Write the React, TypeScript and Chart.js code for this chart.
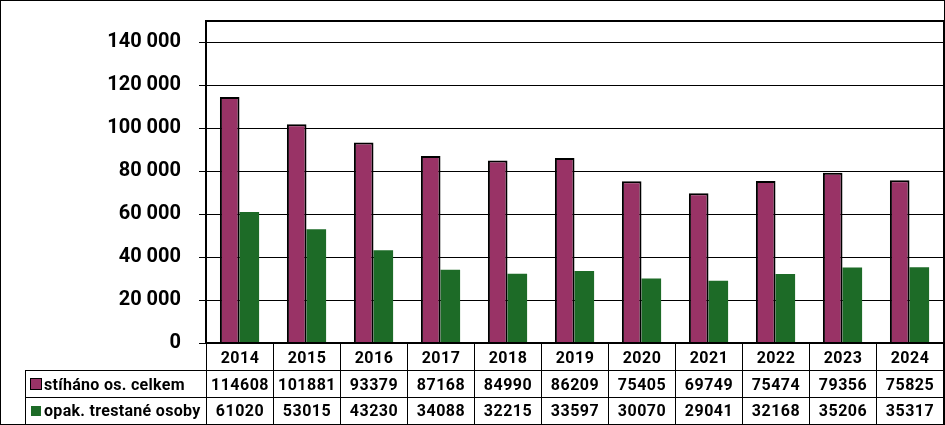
import React, { useEffect, useRef } from "react";
import { Chart, registerables } from "chart.js";

Chart.register(...registerables);

const years = ["2014", "2015", "2016", "2017", "2018", "2019", "2020", "2021", "2022", "2023", "2024"];
const seriesNames = ["stíháno os. celkem", "opak. trestané osoby"];
const stihano = [114608, 101881, 93379, 87168, 84990, 86209, 75405, 69749, 75474, 79356, 75825];
const opak = [61020, 53015, 43230, 34088, 32215, 33597, 30070, 29041, 32168, 35206, 35317];
const yMax = 150000;
const yTicks = [0, 20000, 40000, 60000, 80000, 100000, 120000, 140000];

const MAGENTA = "#993366";
const GREEN = "#1D6B27";
const FONT = "Roboto";

const fmt = (v: number) => String(v).replace(/\B(?=(\d{3})+(?!\d))/g, " ");

const tablePlugin = {
  id: "tablePlugin",
  afterDraw(chart: any) {
    const ctx = chart.ctx as CanvasRenderingContext2D;
    const ca = chart.chartArea;
    const xs = chart.scales.x;
    const n = years.length;
    const colW = (ca.right - ca.left) / n;
    const W = chart.width;
    const H = chart.height;
    const rowTop = ca.bottom;
    const row1 = rowTop + 27;
    const row2 = row1 + 27;
    const row3 = H - 1;
    const legLeft = 25;
    ctx.save();
    ctx.fillStyle = "#000";
    // plot frame
    ctx.fillRect(ca.left - 1, ca.top - 1, ca.right - ca.left + 2, 2);
    ctx.fillRect(ca.left - 1, ca.bottom - 1, ca.right - ca.left + 2, 2);
    ctx.fillRect(ca.right, ca.top - 1, 2, ca.bottom - ca.top + 2);
    // table lines
    ctx.strokeStyle = "#000";
    ctx.lineWidth = 1;
    ctx.beginPath();
    for (let i = 0; i <= n; i++) {
      const x = Math.round(xs.getPixelForValue(i) - colW / 2) + 0.5;
      ctx.moveTo(x, rowTop);
      ctx.lineTo(x, row3);
    }
    ctx.moveTo(legLeft + 0.5, row1);
    ctx.lineTo(legLeft + 0.5, row3);
    ctx.moveTo(legLeft, row1 + 0.5);
    ctx.lineTo(ca.right, row1 + 0.5);
    ctx.moveTo(legLeft, row2 + 0.5);
    ctx.lineTo(ca.right, row2 + 0.5);
    ctx.moveTo(legLeft, row3 + 0.5);
    ctx.lineTo(ca.right, row3 + 0.5);
    ctx.stroke();
    // text
    ctx.font = `bold 16px ${FONT}`;
    (ctx as any).letterSpacing = "0.5px";
    ctx.textBaseline = "alphabetic";
    ctx.textAlign = "center";
    ctx.fillStyle = "#000";
    for (let i = 0; i < n; i++) {
      const cx = xs.getPixelForValue(i) + 0.5;
      ctx.fillText(years[i], cx, rowTop + 19.5);
      ctx.fillText(String(stihano[i]), cx, row1 + 20);
      ctx.fillText(String(opak[i]), cx, row2 + 19);
    }
    // legend keys
    (ctx as any).letterSpacing = "0.3px";
    ctx.textAlign = "left";
    ctx.fillStyle = "#000";
    ctx.fillRect(30, row1 + 8, 12, 12);
    ctx.fillStyle = MAGENTA;
    ctx.fillRect(31, row1 + 9, 10, 10);
    ctx.fillStyle = GREEN;
    ctx.fillRect(31, row2 + 9, 10, 10);
    ctx.fillStyle = "#000";
    ctx.fillText(seriesNames[0], 44, row1 + 20);
    ctx.fillText(seriesNames[1], 44, row2 + 19);
    // outer border
    (ctx as any).letterSpacing = "0px";
    ctx.strokeRect(0.5, 0.5, W - 1, H - 1);
    ctx.restore();
  },
};

export default function App() {
  const ref = useRef<HTMLCanvasElement | null>(null);
  useEffect(() => {
    document.body.style.margin = "0";
    const canvas = ref.current!;
    const chart = new Chart(canvas, {
      type: "bar",
      data: {
        labels: years,
        datasets: [
          {
            label: seriesNames[0],
            data: stihano,
            backgroundColor: MAGENTA,
            borderColor: "#000",
            borderWidth: 2,
            categoryPercentage: 0.585,
            barPercentage: 1,
          },
          {
            label: seriesNames[1],
            data: opak,
            backgroundColor: GREEN,
            borderWidth: 0,
            categoryPercentage: 0.585,
            barPercentage: 1,
          },
        ],
      },
      options: {
        responsive: false,
        animation: false,
        devicePixelRatio: 1,
        layout: { padding: { top: 21, right: 2, bottom: 82, left: 0 } },
        plugins: { legend: { display: false }, tooltip: { enabled: false } },
        scales: {
          x: { display: false },
          y: {
            min: 0,
            max: yMax,
            afterFit: (s: any) => {
              s.width = 206;
              s.paddingTop = 0;
              s.paddingBottom = 0;
            },
            afterBuildTicks: (s: any) => {
              s.ticks = yTicks.map((v) => ({ value: v }));
            },
            ticks: {
              color: "#000",
              font: { family: FONT, size: 20, weight: "bold" },
              padding: 18,
              callback: (v: any) => fmt(Number(v)),
            },
            grid: { color: "#000", lineWidth: 1, tickLength: 7 },
            border: { display: true, color: "#000", width: 2 },
          },
        },
      },
      plugins: [tablePlugin],
    });
    return () => chart.destroy();
  }, []);
  return <canvas ref={ref} width={945} height={425} style={{ display: "block" }} />;
}
